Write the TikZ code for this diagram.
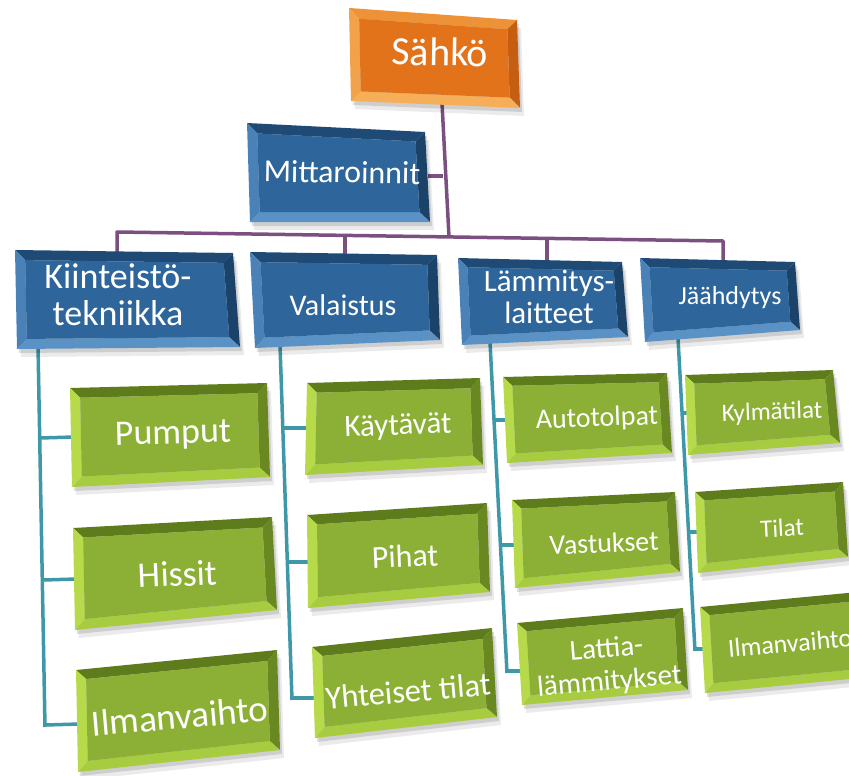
\documentclass[tikz,border=0pt]{standalone}
\usepackage{fontspec}
\setmainfont{Carlito}
\usetikzlibrary{calc}
\definecolor{orface}{HTML}{E2731B}
\definecolor{ortop}{HTML}{EE9238}
\definecolor{orleft}{HTML}{F2A24A}
\definecolor{orbot}{HTML}{F6AE58}
\definecolor{orright}{HTML}{C55E10}
\definecolor{blface}{HTML}{2E669B}
\definecolor{bltop}{HTML}{1E4A75}
\definecolor{blleft}{HTML}{4A82B8}
\definecolor{blbot}{HTML}{5A92C6}
\definecolor{blright}{HTML}{1B4268}
\definecolor{grface}{HTML}{8CB036}
\definecolor{grtop}{HTML}{5E7C1C}
\definecolor{grleft}{HTML}{B6DA4A}
\definecolor{grbot}{HTML}{A7CC40}
\definecolor{grright}{HTML}{6A8822}
\definecolor{linepurple}{HTML}{7B4F80}
\definecolor{lineteal}{HTML}{3E98A8}
\tikzset{
  lbl/.style={text=white, align=center, inner sep=0pt},
  purpline/.style={draw=linepurple, line width=3.5pt},
  tealline/.style={draw=lineteal, line width=3.5pt},
}
% #1 id, #2-#5 corners (tl,tr,br,bl), #6 colour prefix, #7 bevel
\newcommand{\bevbox}[7]{%
  \coordinate (#1-a) at (#2);
  \coordinate (#1-b) at (#3);
  \coordinate (#1-c) at (#4);
  \coordinate (#1-d) at (#5);
  \coordinate (#1-ia) at ($(#1-a)!#7!(#1-b)+(#1-a)!#7!(#1-d)-(#1-a)$);
  \coordinate (#1-ib) at ($(#1-b)!#7!(#1-a)+(#1-b)!#7!(#1-c)-(#1-b)$);
  \coordinate (#1-ic) at ($(#1-c)!#7!(#1-d)+(#1-c)!#7!(#1-b)-(#1-c)$);
  \coordinate (#1-id) at ($(#1-d)!#7!(#1-c)+(#1-d)!#7!(#1-a)-(#1-d)$);
  \fill[black, opacity=0.08] ($(#1-a)+(4,8)$) -- ($(#1-b)+(4,8)$) -- ($(#1-c)+(4,8)$) -- ($(#1-d)+(4,8)$) -- cycle;
  \fill[black, opacity=0.12] ($(#1-a)+(2,4)$) -- ($(#1-b)+(2,4)$) -- ($(#1-c)+(2,4)$) -- ($(#1-d)+(2,4)$) -- cycle;
  \fill[#6top] (#1-a) -- (#1-b) -- (#1-ib) -- (#1-ia) -- cycle;
  \fill[#6right] (#1-b) -- (#1-c) -- (#1-ic) -- (#1-ib) -- cycle;
  \fill[#6bot] (#1-c) -- (#1-d) -- (#1-id) -- (#1-ic) -- cycle;
  \fill[#6left] (#1-d) -- (#1-a) -- (#1-ia) -- (#1-id) -- cycle;
  \fill[#6face] (#1-ia) -- (#1-ib) -- (#1-ic) -- (#1-id) -- cycle;
}
\newcommand{\fs}[1]{\fontsize{#1}{#1}\selectfont}
\begin{document}
\begin{tikzpicture}[x=1pt,y=-1pt]
\useasboundingbox (0,0) rectangle (849,776);
\clip (0,0) rectangle (849,776);

% ---- purple connectors ----
\coordinate (s-bot) at (442,103);
\coordinate (bus-mid) at (449,237);
\coordinate (m-join) at (443,176);
\coordinate (m-right) at (428,176);
\coordinate (bus-l) at (117,232);
\coordinate (bus-r) at (723,241);
\coordinate (k-top) at (117,254);
\coordinate (v-bus) at (345,235.5);
\coordinate (v-top) at (345,256);
\coordinate (l-bus) at (547,238.5);
\coordinate (l-top) at (547,262);
\coordinate (j-top) at (723,262);
\draw[purpline] (s-bot) -- (bus-mid);
\draw[purpline] (m-right) -- (m-join);
\draw[purpline, line join=round] (k-top) -- (bus-l) -- (bus-r) -- (j-top);
\draw[purpline] (v-bus) -- (v-top);
\draw[purpline] (l-bus) -- (l-top);

% ---- teal connectors ----
\coordinate (c1-top) at (38,345);
\coordinate (c1-bot) at (45,727);
\coordinate (c1-1) at (39.8,438);
\coordinate (c1-2) at (43,580);
\coordinate (c1-3) at (45,725);
\coordinate (p1-l) at (74,437);
\coordinate (p2-l) at (77,579);
\coordinate (p3-l) at (80,724);
\draw[tealline] (c1-top) -- (c1-bot);
\draw[tealline] (c1-1) -- (p1-l);
\draw[tealline] (c1-2) -- (p2-l);
\draw[tealline] (c1-3) -- (p3-l);

\coordinate (c2-top) at (280,345);
\coordinate (c2-bot) at (292,700);
\coordinate (c2-1) at (282.7,428);
\coordinate (c2-2) at (287.2,562);
\coordinate (c2-3) at (292,698);
\coordinate (v1-l) at (310,428);
\coordinate (v2-l) at (312,562);
\coordinate (v3-l) at (318,698);
\draw[tealline] (c2-top) -- (c2-bot);
\draw[tealline] (c2-1) -- (v1-l);
\draw[tealline] (c2-2) -- (v2-l);
\draw[tealline] (c2-3) -- (v3-l);

\coordinate (c3-top) at (490,342);
\coordinate (c3-bot) at (507,673);
\coordinate (c3-1) at (493.9,420);
\coordinate (c3-2) at (500.4,545);
\coordinate (c3-3) at (507,671);
\coordinate (l1-l) at (510,420);
\coordinate (l2-l) at (517,545);
\coordinate (l3-l) at (523,671);
\draw[tealline] (c3-top) -- (c3-bot);
\draw[tealline] (c3-1) -- (l1-l);
\draw[tealline] (c3-2) -- (l2-l);
\draw[tealline] (c3-3) -- (l3-l);

\coordinate (c4-top) at (678,338);
\coordinate (c4-bot) at (695,651);
\coordinate (c4-1) at (682,413);
\coordinate (c4-2) at (688.5,532);
\coordinate (c4-3) at (695,649);
\coordinate (j1-l) at (690,413);
\coordinate (j2-l) at (700,532);
\coordinate (j3-l) at (706,649);
\draw[tealline] (c4-top) -- (c4-bot);
\draw[tealline] (c4-1) -- (j1-l);
\draw[tealline] (c4-2) -- (j2-l);
\draw[tealline] (c4-3) -- (j3-l);

% ---- boxes ----
\bevbox{s}{349,8}{517,20}{520,108}{351,101}{or}{10pt}
\bevbox{m}{247,123}{425,132}{430,222}{250,222}{bl}{10pt}
\bevbox{k}{15,250}{233,253}{240,347}{17,349}{bl}{10pt}
\bevbox{v}{250,252}{437,255}{440,340}{255,348}{bl}{10pt}
\bevbox{l}{458,258}{622,262}{628,337}{462,345}{bl}{9pt}
\bevbox{j}{640,258}{795,262}{800,330}{645,342}{bl}{9pt}
\bevbox{p1}{70,388}{267,383}{270,477}{72,487}{gr}{10pt}
\bevbox{p2}{73,528}{272,517}{277,610}{75,630}{gr}{10pt}
\bevbox{p3}{76,670}{277,650}{280,750}{78,772}{gr}{10pt}
\bevbox{v1}{307,383}{480,378}{483,465}{305,475}{gr}{10pt}
\bevbox{v2}{307,515}{487,503}{490,592}{308,608}{gr}{10pt}
\bevbox{v3}{312,647}{492,628}{497,717}{315,738}{gr}{10pt}
\bevbox{l1}{503,377}{667,373}{672,453}{507,463}{gr}{9pt}
\bevbox{l2}{512,500}{675,492}{680,572}{515,588}{gr}{9pt}
\bevbox{l3}{517,623}{683,608}{688,690}{522,705}{gr}{9pt}
\bevbox{j1}{685,375}{833,370}{840,443}{688,455}{gr}{9pt}
\bevbox{j2}{695,492}{843,482}{848,557}{698,573}{gr}{9pt}
\bevbox{j3}{700,607}{858,592}{860,678}{705,693}{gr}{9pt}

% ---- labels ----
\node[lbl, font=\fs{40}, rotate=-1] (t-s) at (440,52) {Sähkö};
\node[lbl, font=\fs{32}, rotate=-1] (t-m) at (342,172) {Mittaroinnit};
\node[lbl, font=\fontsize{36}{37}\selectfont] (t-k) at (118,295) {Kiinteistö-\\tekniikka};
\node[lbl, font=\fs{30}] (t-v) at (343,305) {Valaistus};
\node[lbl, font=\fontsize{31}{32}\selectfont] (t-l) at (549,297) {Lämmitys-\\laitteet};
\node[lbl, font=\fs{26}] (t-j) at (730,298) {Jäähdytys};
\node[lbl, font=\fs{36}, rotate=1.5] (t-p1) at (173,435) {Pumput};
\node[lbl, font=\fs{36}, rotate=2.5] (t-p2) at (178,574) {Hissit};
\node[lbl, font=\fs{37}, rotate=5] (t-p3) at (180,716) {Ilmanvaihto};
\node[lbl, font=\fs{31}, rotate=2] (t-v1) at (398,427) {Käytävät};
\node[lbl, font=\fs{32}, rotate=2.5] (t-v2) at (405,556) {Pihat};
\node[lbl, font=\fs{32.5}, rotate=5] (t-v3) at (408,691) {Yhteiset tilat};
\node[lbl, font=\fs{28}, rotate=2] (t-l1) at (597,419) {Autotolpat};
\node[lbl, font=\fs{28}, rotate=2.5] (t-l2) at (604,543) {Vastukset};
\node[lbl, font=\fontsize{29}{33}\selectfont, rotate=5] (t-l3) at (608,666) {Lattia-\\lämmitykset};
\node[lbl, font=\fs{25}, rotate=2] (t-j1) at (772,413) {Kylmätilat};
\node[lbl, font=\fs{25}, rotate=3] (t-j2) at (782,528) {Tilat};
\node[lbl, font=\fs{26}, rotate=5] (t-j3) at (790,643) {Ilmanvaihto};
\end{tikzpicture}
\end{document}
